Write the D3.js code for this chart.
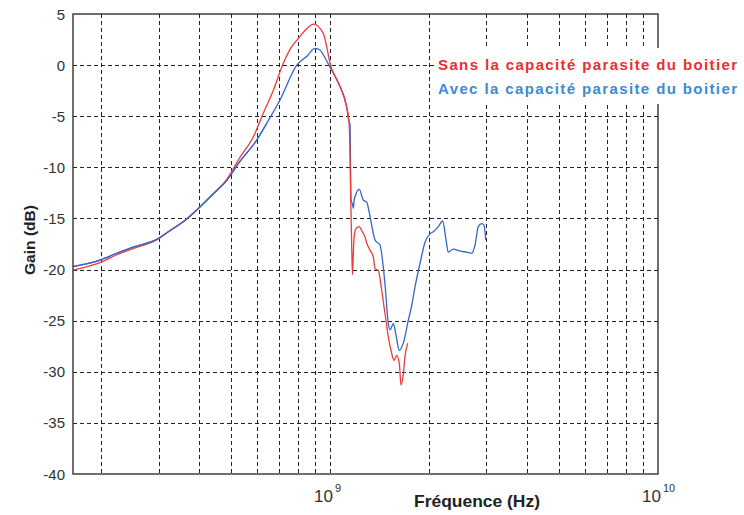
<!DOCTYPE html>
<html>
<head>
<meta charset="utf-8">
<script src="https://cdn.jsdelivr.net/npm/d3@7"></script>
<style>
  html, body { margin: 0; padding: 0; background: #ffffff; }
  svg { display: block; }
</style>
</head>
<body>
<svg id="chart" width="744" height="515"></svg>
<script>
// ---- data (frequency in MHz, gain in dB) ----
const redFreq = [165, 175, 198, 224, 251, 296, 325, 361, 399, 441, 484, 532, 584, 626, 672, 720, 764, 801, 849, 890, 954, 977, 1000, 1036, 1073, 1124, 1140, 1148, 1155, 1165, 1171, 1176, 1185, 1200, 1228, 1250, 1278, 1294, 1324, 1355, 1372, 1404, 1437, 1471, 1506, 1542, 1567, 1597, 1627, 1646, 1673, 1693, 1726];
const redGain = [-20.05, -19.85, -19.35, -18.55, -17.95, -17.1, -16.2, -15.2, -13.95, -12.55, -11.2, -9.0, -7.0, -4.7, -2.45, 0.15, 1.8, 2.6, 3.55, 4.0, 3.1, 1.8, 0.2, -1.1, -2.1, -4.1, -5.2, -7.0, -12.0, -18.0, -20.5, -19.0, -16.8, -16.0, -15.8, -16.2, -16.8, -17.4, -18.1, -18.75, -19.9, -20.1, -22.0, -24.3, -26.6, -28.2, -28.9, -28.4, -29.2, -31.3, -30.2, -28.5, -27.2];

const blueFreq = [165, 198, 224, 251, 296, 325, 361, 399, 441, 484, 532, 598, 641, 704, 792, 849, 900, 932, 966, 1000, 1073, 1124, 1140, 1151, 1155, 1159, 1171, 1178, 1185, 1200, 1228, 1263, 1294, 1324, 1372, 1420, 1471, 1506, 1524, 1560, 1589, 1627, 1673, 1733, 1775, 1816, 1881, 1949, 2018, 2065, 2139, 2206, 2258, 2294, 2376, 2491, 2611, 2704, 2768, 2832, 2901, 2948, 2984];
const blueGain = [-19.7, -19.1, -18.4, -17.8, -17.05, -16.2, -15.2, -13.95, -12.6, -11.3, -9.4, -7.33, -5.7, -3.42, 0.0, 0.85, 1.64, 1.48, 0.7, -0.2, -2.1, -4.07, -5.4, -5.8, -10.0, -13.2, -13.6, -14.0, -13.2, -12.6, -12.16, -13.2, -13.4, -14.8, -17.1, -17.6, -21.4, -25.3, -25.9, -25.3, -26.4, -27.9, -27.2, -24.95, -23.5, -21.7, -19.4, -17.3, -16.5, -16.3, -15.8, -15.25, -17.1, -18.3, -18.0, -18.2, -18.3, -18.4, -17.6, -15.8, -15.5, -15.65, -17.1];

const yTicks = [5, 0, -5, -10, -15, -20, -25, -30, -35, -40];
const xMajorTicks = [1e9, 1e10];
const xMajorExp = ["9", "10"];
const xMinorTicks = [2e8, 3e8, 4e8, 5e8, 6e8, 7e8, 8e8, 9e8, 1e9, 2e9, 3e9, 4e9, 5e9, 6e9, 7e9, 8e9, 9e9];

const legendLabels = ["Sans la capacité parasite du boitier", "Avec la capacité parasite du boitier"];
const xTitle = "Fréquence (Hz)";
const yTitle = "Gain (dB)";

// ---- layout ----
const pLeft = 73, pRight = 658, pTop = 14, pBottom = 474;
const svg = d3.select("#chart");

const x = d3.scaleLog().domain([164.6e6, 1e10]).range([pLeft, pRight]);
const y = d3.scaleLinear().domain([-40, 5]).range([pBottom, pTop]);

const gridColor = "#222";
const font = "'Liberation Sans', Arial, sans-serif";

// grid
svg.append("g").selectAll("line").data(xMinorTicks).join("line")
  .attr("x1", d => Math.round(x(d)) + 0.5).attr("x2", d => Math.round(x(d)) + 0.5)
  .attr("y1", pTop).attr("y2", pBottom)
  .attr("stroke", gridColor).attr("stroke-width", 1)
  .attr("stroke-dasharray", "4,3");

svg.append("g").selectAll("line").data(yTicks.filter(d => d < 5 && d > -40)).join("line")
  .attr("x1", pLeft).attr("x2", pRight)
  .attr("y1", d => Math.round(y(d)) + 0.5).attr("y2", d => Math.round(y(d)) + 0.5)
  .attr("stroke", gridColor).attr("stroke-width", 1)
  .attr("stroke-dasharray", "4,3");

// y axis labels
svg.append("g").selectAll("text").data(yTicks).join("text")
  .attr("x", 65).attr("y", d => y(d) + 5.5)
  .attr("text-anchor", "end")
  .attr("font-family", font).attr("font-size", 15)
  .attr("fill", "#333")
  .text(d => d);

// x axis labels (10^n)
const xl = svg.append("g").selectAll("g").data(xMajorTicks).join("g");
xl.append("text")
  .attr("x", d => x(d) + 3).attr("y", 502)
  .attr("text-anchor", "end")
  .attr("font-family", font).attr("font-size", 17)
  .attr("fill", "#333")
  .text("10");
xl.append("text")
  .attr("x", d => x(d) + 5).attr("y", 492)
  .attr("font-family", font).attr("font-size", 11)
  .attr("fill", "#333")
  .text((d, i) => xMajorExp[i]);

// curves
const line = d3.line().curve(d3.curveMonotoneX).x(d => x(d[0] * 1e6)).y(d => y(d[1]));
const redData = redFreq.map((f, i) => [f, redGain[i]]);
const blueData = blueFreq.map((f, i) => [f, blueGain[i]]);

svg.append("path").datum(blueData)
  .attr("d", line).attr("fill", "none")
  .attr("stroke", "#3565c8").attr("stroke-width", 1.3)
  .attr("stroke-linejoin", "round");
svg.append("path").datum(redData)
  .attr("d", line).attr("fill", "none")
  .attr("stroke", "#f03a3a").attr("stroke-width", 1.3)
  .attr("stroke-linejoin", "round");
svg.append("path").datum(blueData.filter(d => d[0] < 700))
  .attr("d", line).attr("fill", "none")
  .attr("stroke", "#3565c8").attr("stroke-width", 1.1)
  .attr("stroke-linejoin", "round");

// frame
svg.append("rect")
  .attr("x", pLeft).attr("y", pTop)
  .attr("width", pRight - pLeft).attr("height", pBottom - pTop)
  .attr("fill", "none").attr("stroke", "#333").attr("stroke-width", 1.4);

// legend (white box hides grid and frame behind it)
svg.append("rect")
  .attr("x", 436).attr("y", 48)
  .attr("width", 308).attr("height", 56)
  .attr("fill", "#ffffff");
const legendColors = ["#ee2d2d", "#3a8bd6"];
svg.append("g").selectAll("text").data(legendLabels).join("text")
  .attr("x", 438).attr("y", (d, i) => 70 + i * 24)
  .attr("font-family", font).attr("font-size", 15).attr("font-weight", "bold")
  .attr("fill", (d, i) => legendColors[i])
  .attr("textLength", 299).attr("lengthAdjust", "spacing")
  .text(d => d);

// axis titles
svg.append("text")
  .attr("x", 477).attr("y", 507)
  .attr("text-anchor", "middle")
  .attr("font-family", font).attr("font-size", 17).attr("font-weight", "bold")
  .attr("fill", "#222")
  .attr("textLength", 126).attr("lengthAdjust", "spacingAndGlyphs")
  .text(xTitle);

svg.append("text")
  .attr("transform", "translate(35,240) rotate(-90)")
  .attr("text-anchor", "middle")
  .attr("font-family", font).attr("font-size", 15).attr("font-weight", "bold")
  .attr("fill", "#222")
  .attr("textLength", 70).attr("lengthAdjust", "spacingAndGlyphs")
  .text(yTitle);
</script>
</body>
</html>
